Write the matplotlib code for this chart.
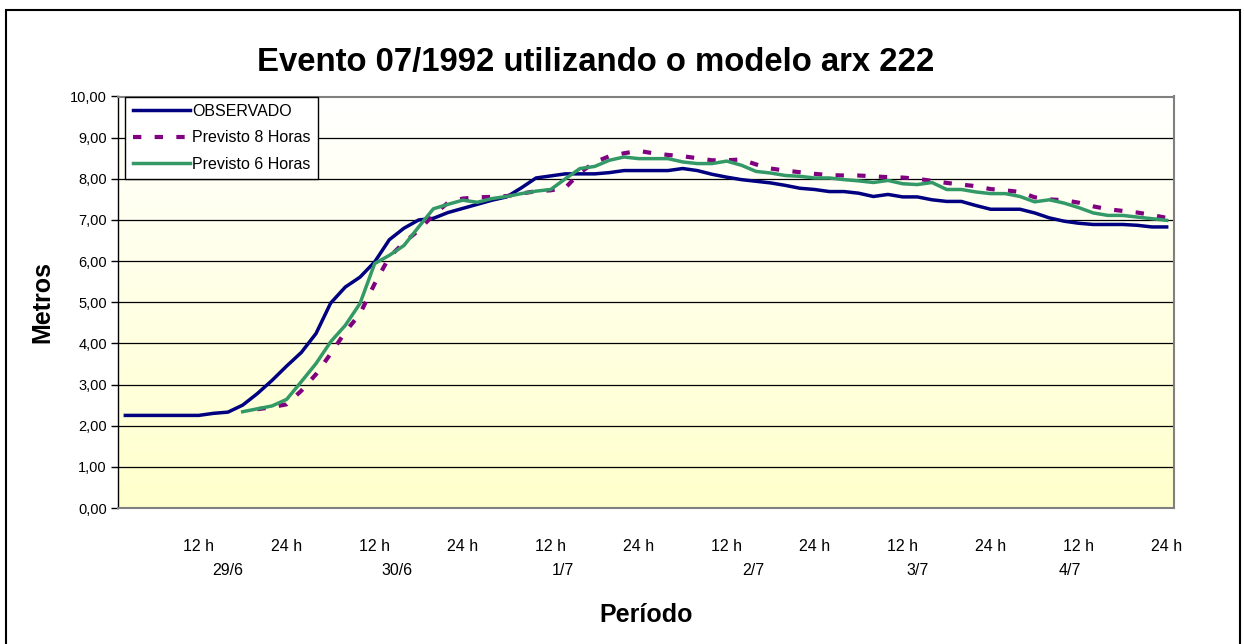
import matplotlib
matplotlib.use("Agg")
import matplotlib.pyplot as plt
import numpy as np
from matplotlib.patches import Rectangle
from matplotlib.colors import LinearSegmentedColormap

plt.rcParams['font.family'] = ['Liberation Sans', 'DejaVu Sans']

# ---- data (one point every 2 hours, 29/6 .. 4/7) ----
observado = [2.25, 2.25, 2.25, 2.25, 2.25, 2.25, 2.30, 2.33, 2.50, 2.78,
             3.10, 3.45, 3.78, 4.24, 4.98, 5.37, 5.61, 5.98, 6.52, 6.80,
             7.00, 7.04, 7.18, 7.28, 7.38, 7.48, 7.56, 7.78, 8.02, 8.07,
             8.12, 8.12, 8.12, 8.15, 8.20, 8.20, 8.20, 8.20, 8.25, 8.20,
             8.11, 8.04, 7.98, 7.94, 7.90, 7.84, 7.77, 7.74, 7.69, 7.69,
             7.65, 7.57, 7.62, 7.56, 7.56, 7.49, 7.45, 7.45, 7.35, 7.26,
             7.26, 7.26, 7.17, 7.05, 6.97, 6.92, 6.89, 6.89, 6.89, 6.87,
             6.83, 6.83]

previsto_8h = [None] * 9 + [
             2.40, 2.45, 2.52, 2.85, 3.25, 3.75, 4.28, 4.72, 5.45, 6.10,
             6.45, 6.75, 7.12, 7.42, 7.52, 7.55, 7.56, 7.58, 7.64, 7.70,
             7.72, 7.78, 8.15, 8.40, 8.55, 8.62, 8.68, 8.62, 8.58, 8.55,
             8.50, 8.45, 8.45, 8.47, 8.35, 8.25, 8.20, 8.16, 8.12, 8.09,
             8.08, 8.08, 8.06, 8.04, 8.03, 8.00, 7.95, 7.90, 7.86, 7.82,
             7.75, 7.72, 7.68, 7.55, 7.50, 7.48, 7.42, 7.33, 7.26, 7.22,
             7.18, 7.12, 7.05]

previsto_6h = [None] * 8 + [
             2.34, 2.41, 2.48, 2.64, 3.07, 3.51, 4.04, 4.44, 4.97, 5.94,
             6.14, 6.38, 6.83, 7.27, 7.38, 7.48, 7.43, 7.52, 7.57, 7.64,
             7.70, 7.74, 8.00, 8.25, 8.30, 8.45, 8.53, 8.49, 8.49, 8.49,
             8.41, 8.37, 8.37, 8.43, 8.33, 8.18, 8.14, 8.08, 8.06, 8.02,
             8.02, 7.98, 7.95, 7.91, 7.96, 7.88, 7.86, 7.91, 7.74, 7.74,
             7.68, 7.64, 7.64, 7.57, 7.44, 7.49, 7.41, 7.30, 7.17, 7.11,
             7.11, 7.07, 7.03, 6.99]

hour_tick_idx = [5, 11, 17, 23, 29, 35, 41, 47, 53, 59, 65, 71]
hour_tick_labels = ["12 h", "24 h"] * 6
day_labels = ["29/6", "30/6", "1/7", "2/7", "3/7", "4/7"]
day_label_pos = [7.0, 18.5, 29.8, 42.8, 54.0, 64.4]

title = "Evento 07/1992 utilizando o modelo arx 222"

def to_arr(v):
    return np.array([np.nan if x is None else x for x in v], dtype=float)

n = len(observado)
x = np.arange(n)

W, H = 1244, 644
fig = plt.figure(figsize=(W / 100, H / 100), dpi=100)
fig.patch.set_facecolor("white")

# outer chart border
fig.patches.append(Rectangle((6 / W, -0.01), (1240 - 6) / W, 1 - 10 / H + 0.01,
                             transform=fig.transFigure, fill=False,
                             edgecolor="black", linewidth=1.5))

ax = fig.add_axes([118 / W, 1 - 508 / H, (1174 - 118) / W, (508 - 96.5) / H])

# gradient background
grad = np.linspace(0, 1, 256).reshape(-1, 1)
cmap = LinearSegmentedColormap.from_list("bg", ["#ffffcc", "#ffffff"])
ax.imshow(grad, aspect="auto", cmap=cmap, origin="lower",
          extent=(-0.5, n - 0.5, 0, 10), zorder=0)

for yv in range(1, 10):
    ax.axhline(yv, color="black", linewidth=0.9, zorder=1)

ax.plot(x, to_arr(observado), color="#000080", linewidth=2.5,
        label="OBSERVADO", zorder=3, solid_joinstyle="round")
ax.plot(x, to_arr(previsto_8h), color="#800080", linewidth=3.0,
        linestyle=(0, (2.0, 3.2)), dash_capstyle="butt",
        label="Previsto 8 Horas", zorder=4)
ax.plot(x, to_arr(previsto_6h), color="#339966", linewidth=2.5,
        label="Previsto 6 Horas", zorder=5, solid_joinstyle="round")

ax.set_xlim(-0.5, n - 0.5)
ax.set_ylim(0, 10)
ax.set_yticks(np.arange(0, 11, 1))
ax.set_yticklabels([f"{v:.2f}".replace(".", ",") for v in range(0, 11)],
                   fontsize=10.5)
ax.tick_params(axis="y", direction="out", length=5, width=1, pad=3)
ax.set_xticks(hour_tick_idx)
ax.set_xticklabels(hour_tick_labels, fontsize=11.5)
ax.tick_params(axis="x", length=0, pad=22)

for lab, pos in zip(day_labels, day_label_pos):
    ax.text(pos, -0.153, lab, transform=ax.get_xaxis_transform(),
            ha="center", va="center", fontsize=11.5)

for s in ["top", "right", "bottom"]:
    ax.spines[s].set_color("#808080")
    ax.spines[s].set_linewidth(1.5)
ax.spines["left"].set_color("black")
ax.spines["left"].set_linewidth(1)

leg = ax.legend(loc="upper left", bbox_to_anchor=(0.007, 1.0),
                fontsize=11.5, frameon=True, fancybox=False,
                handlelength=3.6, handletextpad=0.12, labelspacing=0.72,
                borderpad=0.45, borderaxespad=0.0)
leg.get_frame().set_edgecolor("black")
leg.get_frame().set_linewidth(1.0)
leg.get_frame().set_facecolor("white")
leg.get_frame().set_alpha(1)

fig.text(595.5 / W, 1 - 62 / H, title, ha="center", va="center",
         fontsize=23.7, fontweight="bold")
fig.text(42 / W, 1 - 302 / H, "Metros", ha="center", va="center",
         rotation=90, fontsize=18, fontweight="bold")
fig.text(646 / W, 1 - 615 / H, "Período", ha="center", va="center",
         fontsize=18, fontweight="bold")

fig.savefig("out.png", dpi=100)
